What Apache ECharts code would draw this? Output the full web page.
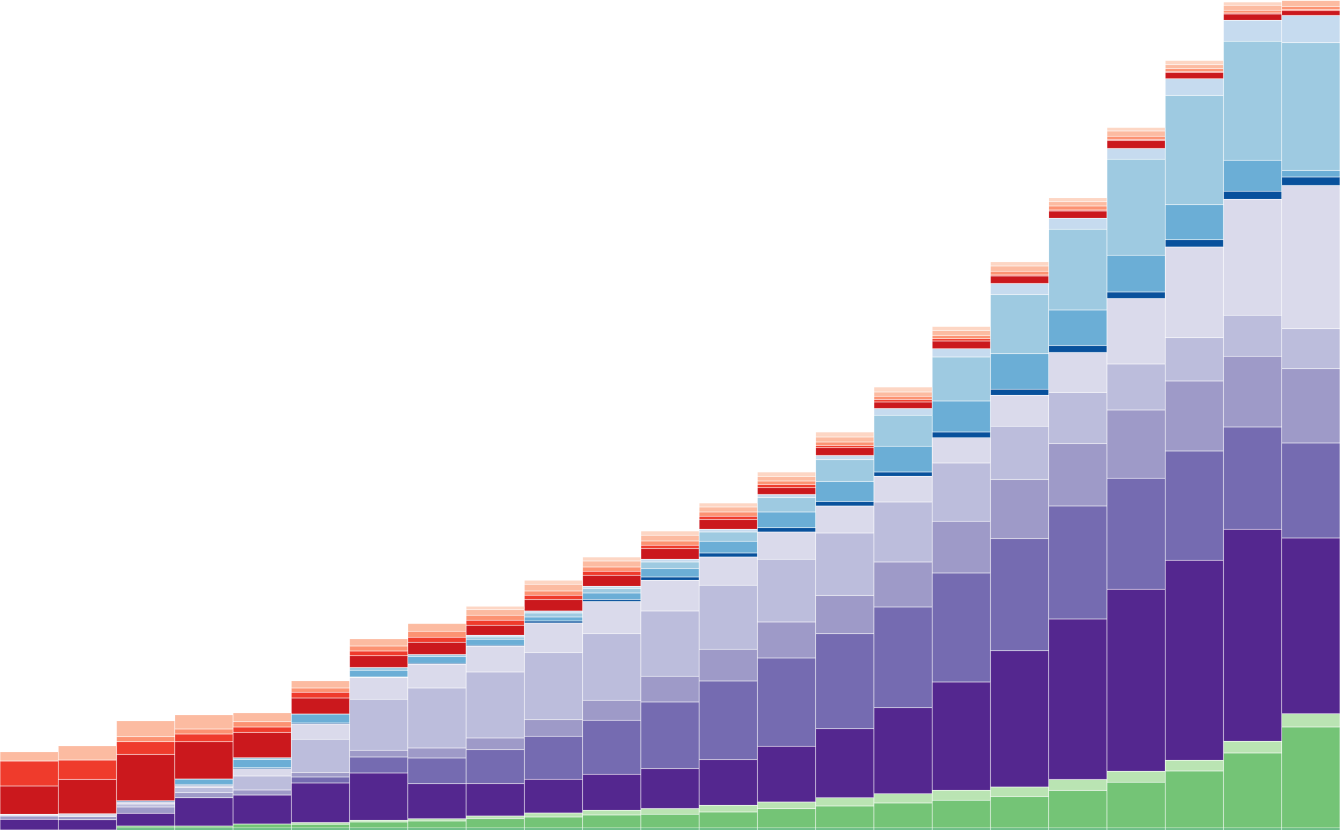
<!DOCTYPE html>
<html>
<head>
<meta charset="utf-8">
<script src="https://cdn.jsdelivr.net/npm/echarts@6/dist/echarts.min.js"></script>
<style>html,body{margin:0;padding:0;background:#fff;}#chart{width:1340px;height:830px;}</style>
</head>
<body>
<div id="chart"></div>
<script>
// 23 stacked columns; values are segment heights
const categories = ['1','2','3','4','5','6','7','8','9','10','11','12','13','14','15','16','17','18','19','20','21','22','23'];

const G1 = [0,0,2,2,2,2,2,2,2,2,2,2,2,2,2,2,2,2,2,2,2,2,2];
const G2 = [0,0,2,2,4,3.7,6,7,9.4,11,13,13.7,16,19.3,22,25,27.7,31.5,37.6,45.8,57,75,101];
const G3 = [0,0,0,0,0,1.7,1.7,2.3,2.7,4,4.7,5.7,6.7,6.7,8.3,9.3,10,9.4,11,11,10.7,11.7,13.3];
const P1 = [10.7,10.3,12.7,28.3,29,39.7,47.3,35,32.3,33.7,36,40,45.7,55.7,69,86,108.3,136.3,160.4,182,200,212,175.7];
const P2 = [0,0,0,0,0,6,16,25.7,34,43,54,66.7,78.7,88.3,95,100.7,109,112.2,113.1,111,109.3,102.3,95];
const P3 = [3.3,3.3,6.3,5,5,4.3,6.7,10,11.7,16.7,20,25.7,31.7,36,38.3,45,51.7,59.2,62.4,68.2,70,70.7,74.3];
const P4 = [0,0,3,5.3,14,33.3,51,60,66,67,66.7,65.3,64,62.7,62.3,60,58.3,53.1,51.1,46.1,43.3,41,40];
const P5 = [1.7,2.7,2.3,2,7.3,15.3,21.7,23.7,25.7,29.7,32,30.7,28.3,27.3,27,25.7,25.3,31,40,65.3,90.7,116,143.3];
const B1 = [0,0,1,1,1,1,0.7,1,1,2,2,3.3,4,4.3,4.7,4.3,5.7,6.1,6.9,6.7,7.3,8,8.3];
const B2 = [0,0,0,5.3,8.3,9,6.7,6.7,6,4,6.7,8.3,11.7,15.7,20,25.7,31,35.5,35.5,36.7,35,31,6.7];
const B3 = [0,0,0,0,1.7,0,2.7,2,2.3,4,4.3,6.7,9.3,14.3,21.7,31,44,59.2,80.8,96,109.3,119,127.7];
const B4 = [0,0,0,0,0,0,0,0,1.7,2,2.3,2.7,2.7,3.3,4.3,6.7,8.3,11,11,10.7,16.7,21,27.3];
const R1 = [28.3,34.3,46.3,37.3,25.3,16,11.7,12.3,10,11.3,11,10.7,9.7,6.7,7.7,6.7,7.7,7.6,7.2,8,6.3,6.3,4.7];
const R2 = [25,19.3,12.7,7.7,5.3,5.7,4.7,5,5,4.3,4,3.3,3.3,3.3,2.3,2.3,2.3,1,1,1,1,1,1];
const R3 = [0,0,5,5,5.3,4.3,5,6,5,4.3,4.3,4.3,4.3,3.3,3.3,3.3,3.3,3.7,4.1,3.3,2.7,2.7,3.3];
const R4 = [9.3,14.3,16,14.3,9,7.3,7.3,7.7,5.7,6.7,6,5.7,5,4.7,5,4.3,5,5.3,4.1,5.3,4,5,6];
const R5 = [0,0,0,0,0,0,0,0,3.3,4,4,4.3,4,4.3,5,5,4,4.1,4.1,3.3,4.3,3.3,0];

const layers = [
  ['G1', G1, '#31a354'], ['G2', G2, '#74c476'], ['G3', G3, '#bae4b3'],
  ['P1', P1, '#54278f'], ['P2', P2, '#756bb1'], ['P3', P3, '#9e9ac8'], ['P4', P4, '#bcbddc'], ['P5', P5, '#dadaeb'],
  ['B1', B1, '#08519c'], ['B2', B2, '#6baed6'], ['B3', B3, '#9ecae1'], ['B4', B4, '#c6dbef'],
  ['R1', R1, '#cb181d'], ['R2', R2, '#ef3b2c'], ['R3', R3, '#fc9272'], ['R4', R4, '#fcbba1'], ['R5', R5, '#fdd6c4']
];

const chart = echarts.init(document.getElementById('chart'), null, {renderer: 'canvas'});
chart.setOption({
  animation: false,
  grid: {left: 0, right: 0, top: 0, bottom: 0, containLabel: false},
  xAxis: {type: 'category', data: categories, show: false},
  yAxis: {type: 'value', min: 0, max: 830, show: false},
  series: layers.map(([name, data, color]) => ({
    name: name,
    type: 'bar',
    stack: 'all',
    data: data,
    barCategoryGap: '0%',
    barGap: '0%',
    itemStyle: {color: color, borderColor: 'rgba(255,255,255,0.2)', borderWidth: 0.5}
  }))
});
</script>
</body>
</html>
